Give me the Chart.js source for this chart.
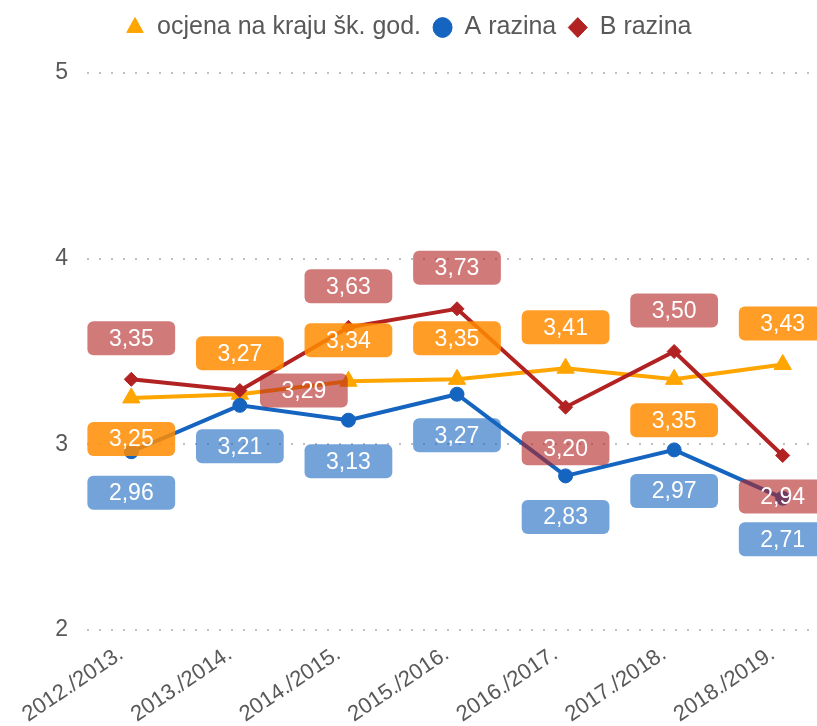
<!DOCTYPE html>
<html>
<head>
<meta charset="utf-8">
<script src="https://cdn.jsdelivr.net/npm/chart.js@4.4.1/dist/chart.umd.min.js"></script>
<style>
  html, body { margin: 0; padding: 0; background: #fff; overflow: hidden; }
  #wrap { position: relative; width: 848px; height: 726px; }
</style>
</head>
<body>
<div id="wrap"><canvas id="chart"></canvas></div>
<script>
const years = ["2012./2013.", "2013./2014.", "2014./2015.", "2015./2016.", "2016./2017.", "2017./2018.", "2018./2019."]
const ocjena = [3.25, 3.27, 3.34, 3.35, 3.41, 3.35, 3.43]
const razinaA = [2.96, 3.21, 3.13, 3.27, 2.83, 2.97, 2.71]
const razinaB = [3.35, 3.29, 3.63, 3.73, 3.20, 3.50, 2.94]
const yTicks = [2, 3, 4, 5]

// where each value box sits next to its point
const placeOcjena = ["below", "above", "above", "above", "above", "below", "above"]
const placeA = ["below", "below", "below", "below", "below", "below", "below"]
const placeB = ["above", "right", "above", "above", "below", "above", "below"]

const FONT = '"Liberation Sans", Arial, sans-serif'
const GREY = "#595959"

const valueBoxes = {
  id: "valueBoxes",
  afterDatasetsDraw(chart) {
    const ctx = chart.ctx
    ctx.save()
    ctx.font = "23px " + FONT
    ctx.textAlign = "center"
    ctx.textBaseline = "middle"
    chart.data.datasets.forEach((ds, di) => {
      const meta = chart.getDatasetMeta(di)
      meta.data.forEach((pt, i) => {
        const text = ds.data[i].toFixed(2).replace(".", ",")
        let x = pt.x, y = pt.y
        if (ds.place[i] === "above") y -= 41
        else if (ds.place[i] === "below") y += 41
        else x += 64
        const w = ctx.measureText(text).width + 43, h = 34
        ctx.fillStyle = ds.boxColor
        ctx.beginPath()
        ctx.roundRect(x - w / 2, y - h / 2, w, h, 6)
        ctx.fill()
        ctx.fillStyle = "#fff"
        ctx.fillText(text, x, y + 1)
      })
    })
    ctx.restore()
  }
}

// legend: fixed height so the plot starts under it, nudged a bit left
const legendFit = {
  id: "legendFit",
  afterInit(chart) {
    const lg = chart.legend
    const fit = lg.fit.bind(lg)
    lg.fit = () => { fit(); lg.height = 70 }
  },
  afterLayout(chart) {
    chart.legend.right -= 31
  }
}

new Chart(document.getElementById("chart"), {
  type: "line",
  data: {
    labels: years,
    datasets: [
      {
        label: "ocjena na kraju šk. god.",
        data: ocjena,
        place: placeOcjena,
        boxColor: "rgba(255, 140, 0, 0.85)",
        borderColor: "#ffa500",
        backgroundColor: "#ffa500",
        pointStyle: "triangle",
        pointRadius: 10,
        pointBorderWidth: 1,
        order: 3
      },
      {
        label: "A razina",
        data: razinaA,
        place: placeA,
        boxColor: "rgba(21, 101, 192, 0.6)",
        borderColor: "#1565c0",
        backgroundColor: "#1565c0",
        pointStyle: "circle",
        pointRadius: 7,
        pointBorderWidth: 1,
        order: 2
      },
      {
        label: "B razina",
        data: razinaB,
        place: placeB,
        boxColor: "rgba(178, 34, 34, 0.6)",
        borderColor: "#b22222",
        backgroundColor: "#b22222",
        pointStyle: "rectRot",
        pointRadius: 7,
        pointBorderWidth: 1,
        order: 1
      }
    ]
  },
  options: {
    responsive: true,
    maintainAspectRatio: false,
    animation: false,
    layout: { padding: { top: 3 } },
    elements: { line: { borderWidth: 4, tension: 0 } },
    plugins: {
      tooltip: { enabled: false },
      legend: {
        position: "top",
        labels: {
          usePointStyle: true,
          boxHeight: 14,
          pointStyleWidth: 19,
          padding: 12,
          color: GREY,
          font: { family: FONT, size: 25 },
          sort: (a, b) => a.datasetIndex - b.datasetIndex
        }
      }
    },
    scales: {
      x: {
        offset: true,
        grid: { display: false, offset: false },
        border: { display: false },
        ticks: {
          color: GREY,
          font: { family: FONT, size: 22 },
          minRotation: 34,
          maxRotation: 34,
          autoSkip: false,
          padding: 3,
          labelOffset: -10
        },
        afterFit(s) { s.height = 96 }
      },
      y: {
        min: 2,
        max: 5,
        afterBuildTicks(s) { s.ticks = yTicks.map(v => ({ value: v })) },
        grid: { color: "#bfbfbf", lineWidth: 2, drawTicks: false },
        border: { display: false, dash: [2, 10], dashOffset: 2 },
        ticks: { color: GREY, font: { family: FONT, size: 23 }, padding: 9 },
        afterFit(s) { s.width = 77 }
      }
    }
  },
  plugins: [valueBoxes, legendFit]
})
</script>
</body>
</html>
